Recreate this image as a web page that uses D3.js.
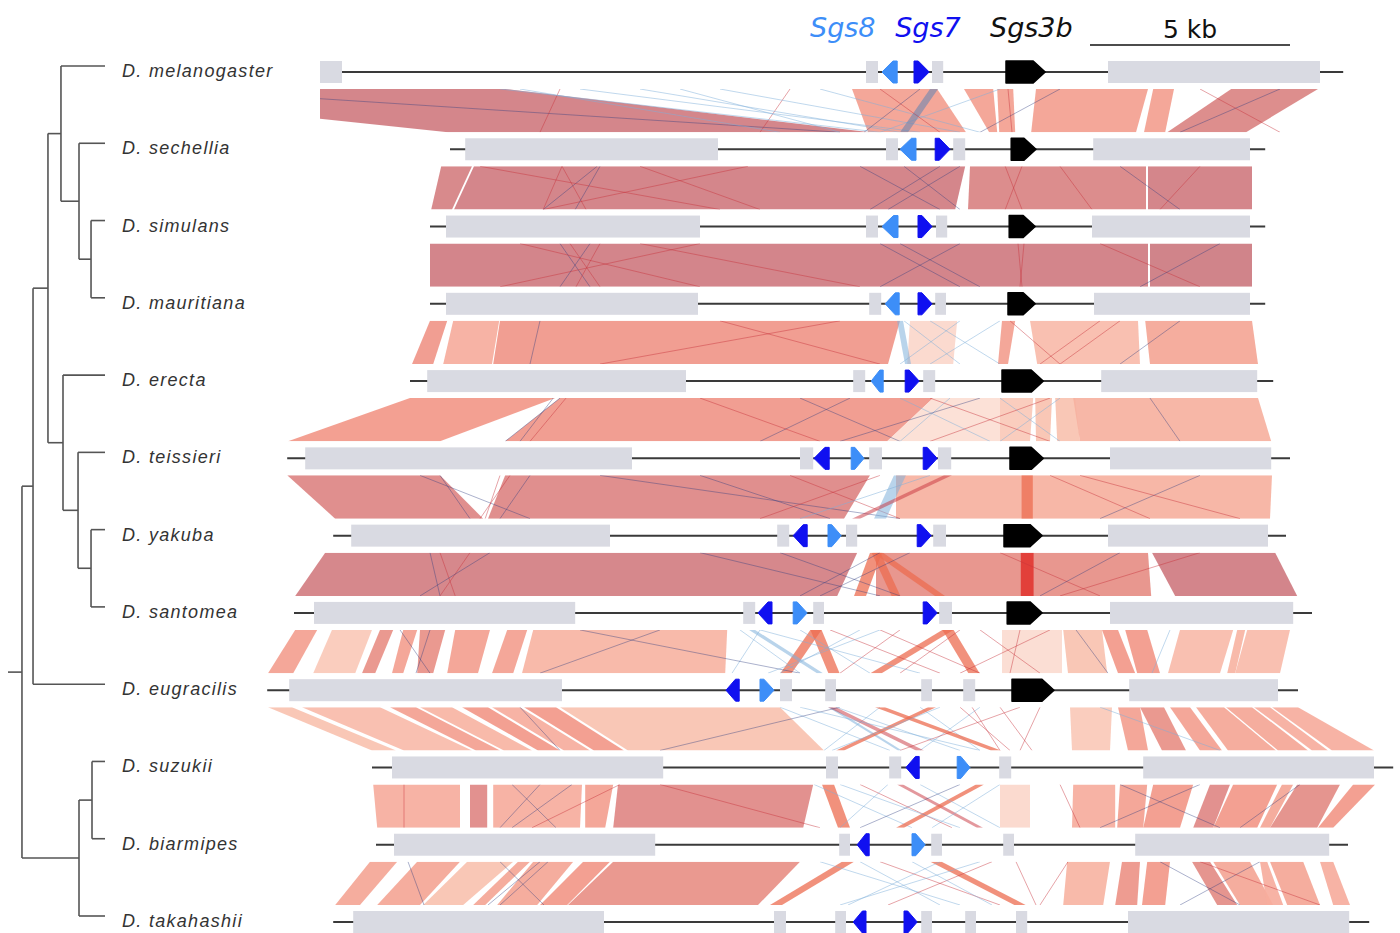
<!DOCTYPE html>
<html>
<head>
<meta charset="utf-8">
<script src="https://cdn.jsdelivr.net/npm/d3@7"></script>
<style>
  body { margin: 0; background: #fff; }
</style>
</head>
<body>
<div id="chart"></div>
<script>
// ---- data (positions in kb along the aligned window) ----
const species = ["D. melanogaster", "D. sechellia", "D. simulans", "D. mauritiana", "D. erecta",
  "D. teissieri", "D. yakuba", "D. santomea", "D. eugracilis", "D. suzukii", "D. biarmipes", "D. takahashii"];

const lineExtent = [
  [8.0, 33.58], [11.25, 31.63], [10.75, 31.63], [10.75, 31.63], [10.25, 31.83], [7.18, 32.25],
  [8.33, 32.15], [7.35, 32.8], [6.68, 32.45], [9.3, 34.83], [9.4, 33.7], [8.33, 34.23]
];

const geneBoxes = [
  [[8.0, 8.55], [21.65, 21.95], [23.3, 23.58], [27.7, 33.0]],
  [[11.63, 17.95], [22.15, 22.45], [23.83, 24.13], [27.33, 31.25]],
  [[11.15, 17.5], [21.65, 21.95], [23.4, 23.68], [27.3, 31.25]],
  [[11.15, 17.45], [21.73, 22.03], [23.38, 23.65], [27.35, 31.25]],
  [[10.68, 17.15], [21.33, 21.63], [23.08, 23.38], [27.53, 31.43]],
  [[7.63, 15.8], [20.0, 20.33], [21.73, 22.05], [23.45, 23.78], [27.75, 31.78]],
  [[8.78, 15.25], [19.43, 19.73], [21.15, 21.43], [23.33, 23.65], [27.7, 31.7]],
  [[7.85, 14.38], [18.58, 18.88], [20.33, 20.6], [23.48, 23.8], [27.75, 32.33]],
  [[7.23, 14.05], [19.5, 19.8], [20.63, 20.9], [23.03, 23.3], [24.08, 24.38], [28.23, 31.95]],
  [[9.8, 16.58], [20.65, 20.95], [22.23, 22.53], [24.98, 25.28], [28.58, 34.35]],
  [[9.85, 16.38], [20.98, 21.25], [23.28, 23.55], [25.08, 25.35], [28.38, 33.23]],
  [[8.83, 15.1], [19.35, 19.65], [20.88, 21.15], [23.03, 23.3], [24.13, 24.4], [25.4, 25.68], [28.2, 33.73]]
];

// [start, end, strand, gene]
const sgsGenes = [
  [[22.05, 22.43, -1, "Sgs8"], [22.85, 23.23, 1, "Sgs7"]],
  [[22.5, 22.9, -1, "Sgs8"], [23.38, 23.75, 1, "Sgs7"]],
  [[22.05, 22.45, -1, "Sgs8"], [22.95, 23.3, 1, "Sgs7"]],
  [[22.13, 22.48, -1, "Sgs8"], [22.95, 23.3, 1, "Sgs7"]],
  [[21.78, 22.08, -1, "Sgs8"], [22.63, 22.98, 1, "Sgs7"]],
  [[20.35, 20.73, -1, "Sgs7"], [21.28, 21.6, 1, "Sgs8"], [23.08, 23.43, 1, "Sgs7"]],
  [[19.83, 20.18, -1, "Sgs7"], [20.7, 21.03, 1, "Sgs8"], [22.93, 23.28, 1, "Sgs7"]],
  [[18.95, 19.3, -1, "Sgs7"], [19.83, 20.18, 1, "Sgs8"], [23.08, 23.43, 1, "Sgs7"]],
  [[18.15, 18.48, -1, "Sgs7"], [19.0, 19.35, 1, "Sgs8"]],
  [[22.65, 22.98, -1, "Sgs7"], [23.93, 24.25, 1, "Sgs8"]],
  [[21.43, 21.73, -1, "Sgs7"], [22.8, 23.13, 1, "Sgs8"]],
  [[21.33, 21.65, -1, "Sgs7"], [22.6, 22.93, 1, "Sgs7"]]
];

const sgs3b = [
  [25.15, 26.13], [25.28, 25.9], [25.23, 25.88], [25.2, 25.88], [25.05, 26.08], [25.25, 26.08],
  [25.1, 26.05], [25.18, 26.05], [25.3, 26.35], null, null, null
];

// syntenic blocks between neighbouring tracks: [topStart, topEnd, bottomStart, bottomEnd, identity]
const blocks = [
  [[1.0, 12.63, 11.2, 21.75, 0.95], [21.3, 23.43, 21.7, 24.15, 0.55], [24.1, 24.83, 24.73, 24.93, 0.55],
   [24.93, 25.33, 24.98, 25.38, 0.55], [25.9, 28.7, 25.78, 28.4, 0.55], [28.83, 29.35, 28.6, 29.13, 0.55],
   [30.78, 32.95, 29.18, 31.15, 0.85]],
  [[11.03, 11.8, 10.78, 11.3, 0.9], [11.85, 24.13, 11.35, 23.88, 0.95], [24.25, 28.65, 24.2, 28.65, 0.86],
   [28.7, 31.3, 28.7, 31.3, 0.95]],
  [[10.75, 28.7, 10.75, 28.7, 0.96], [28.75, 31.3, 28.75, 31.3, 0.99]],
  [[10.75, 11.18, 10.3, 10.83, 0.62], [11.33, 12.48, 11.08, 12.3, 0.45], [12.5, 22.5, 12.33, 22.2, 0.62],
   [22.75, 23.93, 22.68, 23.83, 0.15], [25.05, 25.38, 24.95, 25.2, 0.55], [25.75, 28.45, 25.93, 28.5, 0.35],
   [28.63, 31.3, 28.75, 31.45, 0.5]],
  [[10.25, 13.88, 7.2, 11.0, 0.6], [14.0, 23.33, 12.63, 22.18, 0.62], [23.33, 25.0, 22.18, 25.0, 0.1],
   [25.0, 25.83, 25.0, 25.75, 0.25], [25.88, 26.3, 25.9, 26.25, 0.3], [26.38, 26.88, 26.43, 27.0, 0.3],
   [26.83, 31.45, 27.0, 31.78, 0.42]],
  [[7.18, 11.0, 8.38, 12.08, 0.82], [12.63, 21.75, 12.2, 21.1, 0.82], [22.4, 31.8, 22.4, 31.75, 0.42]],
  [[8.13, 21.43, 7.38, 20.93, 0.93], [21.9, 28.7, 21.9, 28.78, 0.72], [28.8, 31.88, 29.38, 32.43, 0.96]],
  [[7.38, 7.93, 6.7, 7.33, 0.55], [8.3, 9.3, 7.83, 8.88, 0.25], [9.5, 9.83, 9.05, 9.38, 0.7],
   [10.08, 10.43, 9.8, 10.08, 0.55], [10.5, 11.13, 10.43, 10.83, 0.7], [11.38, 12.25, 11.18, 11.95, 0.55],
   [12.68, 13.18, 12.3, 12.83, 0.55], [13.33, 18.18, 13.05, 18.13, 0.4], [25.05, 26.55, 25.05, 26.55, 0.12],
   [26.58, 27.55, 26.7, 27.68, 0.3], [27.55, 27.95, 27.95, 28.38, 0.6], [28.13, 28.68, 28.43, 29.0, 0.6],
   [29.5, 30.83, 29.2, 30.5, 0.35], [30.93, 31.13, 30.68, 30.88, 0.4], [31.18, 32.25, 30.88, 32.0, 0.35]],
  [[6.7, 7.3, 9.3, 9.9, 0.3], [7.55, 9.5, 10.1, 11.8, 0.35], [9.75, 10.4, 11.9, 12.5, 0.55],
   [10.5, 11.3, 12.6, 13.3, 0.4], [11.55, 12.2, 13.45, 14.0, 0.6], [12.3, 13.0, 14.1, 14.75, 0.45],
   [13.1, 13.9, 14.85, 15.6, 0.6], [14.0, 19.5, 15.7, 20.6, 0.3], [26.75, 27.8, 26.8, 27.75, 0.25],
   [27.95, 28.5, 28.2, 28.7, 0.55], [28.5, 29.1, 29.05, 29.65, 0.7], [29.25, 29.75, 30.0, 30.55, 0.55],
   [29.9, 30.6, 30.7, 31.9, 0.5], [30.65, 31.3, 31.95, 32.7, 0.5], [31.35, 31.75, 32.8, 33.2, 0.45],
   [31.8, 32.45, 33.3, 34.35, 0.45]],
  [[9.33, 11.5, 9.43, 11.5, 0.45], [11.75, 12.18, 11.75, 12.18, 0.8], [12.33, 14.55, 12.33, 14.5, 0.45],
   [14.63, 15.33, 14.63, 15.13, 0.55], [15.45, 20.33, 15.33, 20.08, 0.8], [25.0, 25.75, 25.0, 25.75, 0.15],
   [26.83, 27.88, 26.8, 27.88, 0.45], [28.0, 28.68, 27.93, 28.58, 0.55], [28.83, 29.83, 28.58, 29.5, 0.6],
   [30.25, 30.75, 29.83, 30.33, 0.8], [30.83, 31.93, 30.33, 31.43, 0.6], [32.05, 32.33, 31.5, 31.75, 0.5],
   [32.43, 33.5, 31.75, 32.93, 0.75], [33.83, 34.38, 32.95, 33.33, 0.6]],
  [[9.25, 9.93, 8.38, 9.0, 0.5], [10.43, 11.5, 9.43, 10.5, 0.5], [11.68, 12.83, 10.58, 11.58, 0.3],
   [12.95, 13.25, 11.83, 12.13, 0.5], [13.33, 14.33, 12.43, 13.43, 0.5], [14.58, 15.25, 13.5, 14.18, 0.6],
   [15.33, 20.0, 14.2, 18.95, 0.7], [26.68, 27.75, 26.58, 27.58, 0.4], [28.05, 28.5, 27.88, 28.43, 0.65],
   [28.68, 29.25, 28.55, 29.13, 0.6], [29.8, 30.25, 30.43, 30.93, 0.75], [30.33, 31.25, 31.0, 31.83, 0.5],
   [31.5, 31.68, 31.68, 32.08, 0.45], [31.75, 32.58, 32.18, 33.0, 0.5], [33.0, 33.33, 33.33, 33.75, 0.45]]
];

// short hits: [topCentre, bottomCentre, kind, width kb]  r=forward, n=dark, b=reverse, s=strong forward, R=bright
const hits = [
  [[4.25, 21.0, "n", 0], [14.0, 13.5, "r", 0], [19.75, 19.0, "r", 0], [12.5, 22.0, "b", 0], [14.5, 23.0, "b", 0],
   [16.0, 22.5, "b", 0], [18.0, 24.0, "b", 0], [20.5, 24.5, "b", 0], [25.0, 22.0, "b", 0], [23.35, 22.6, "t", 0.2],
   [22.0, 23.5, "r", 0], [23.0, 21.6, "n", 0], [25.2, 25.3, "r", 0], [26.5, 24.5, "n", 0], [32.0, 29.5, "n", 0],
   [30.0, 32.0, "r", 0], [13.0, 19.5, "b", 0], [17.0, 21.0, "b", 0]],
  [[14.05, 14.65, "r", 0], [14.05, 13.58, "r", 0], [14.93, 13.58, "n", 0], [15.0, 14.38, "n", 0], [18.7, 13.58, "r", 0],
   [16.0, 19.0, "r", 0], [12.0, 18.0, "r", 0], [21.5, 23.5, "n", 0], [23.5, 21.75, "n", 0], [22.6, 24.0, "n", 0],
   [24.0, 22.2, "n", 0], [25.13, 25.55, "r", 0], [25.55, 25.13, "r", 0], [26.5, 27.3, "r", 0], [30.0, 29.0, "r", 0],
   [28.0, 29.5, "n", 0]],
  [[14.0, 14.75, "n", 0], [14.75, 14.0, "n", 0], [14.25, 15.0, "r", 0], [15.0, 14.4, "r", 0], [13.0, 17.5, "r", 0],
   [17.5, 12.5, "r", 0], [22.0, 24.0, "n", 0], [24.0, 22.0, "n", 0], [22.5, 24.5, "n", 0], [25.45, 25.55, "r", 0],
   [25.6, 25.5, "r", 0], [16.0, 21.5, "r", 0], [27.5, 30.0, "r", 0], [30.5, 28.5, "n", 0]],
  [[13.5, 13.25, "n", 0], [22.6, 24.0, "b", 0], [24.0, 22.5, "b", 0], [23.25, 25.0, "b", 0], [25.0, 23.25, "b", 0],
   [25.25, 26.5, "r", 0], [27.5, 26.0, "r", 0], [29.5, 28.0, "n", 0], [18.0, 22.0, "r", 0], [21.0, 15.0, "r", 0],
   [28.0, 26.5, "r", 0], [22.5, 22.7, "b", 0.15]],
  [[13.83, 13.0, "n", 0], [14.0, 12.63, "n", 0], [14.15, 13.25, "r", 0], [17.5, 20.5, "r", 0], [20.0, 22.5, "n", 0],
   [21.25, 19.0, "n", 0], [22.5, 24.75, "b", 0], [23.75, 22.5, "b", 0], [25.0, 26.5, "b", 0], [26.5, 25.0, "b", 0],
   [23.25, 26.25, "r", 0], [26.25, 23.25, "r", 0], [28.75, 29.5, "n", 0], [24.5, 21.0, "n", 0]],
  [[10.5, 13.25, "n", 0], [11.0, 11.75, "n", 0], [12.5, 12.13, "r", 0], [12.75, 12.0, "r", 0], [13.25, 12.5, "n", 0],
   [15.0, 22.5, "n", 0], [17.5, 20.75, "n", 0], [19.75, 22.5, "r", 0], [22.0, 19.0, "r", 0], [22.5, 22.0, "b", 0.3],
   [23.25, 20.0, "b", 0], [23.7, 21.4, "r", 0.2], [25.68, 25.68, "s", 0.28], [26.25, 28.75, "r", 0],
   [30.0, 27.5, "n", 0], [27.0, 31.0, "r", 0]],
  [[10.75, 11.0, "n", 0], [11.0, 11.38, "r", 0], [11.75, 11.0, "r", 0], [12.25, 10.5, "n", 0], [21.9, 21.5, "s", 0.3],
   [21.95, 23.5, "s", 0.25], [21.9, 22.4, "s", 0.22], [22.0, 20.0, "n", 0], [19.5, 22.5, "n", 0], [17.5, 22.0, "n", 0],
   [22.75, 20.5, "n", 0], [25.68, 25.68, "R", 0.32], [25.0, 27.5, "r", 0], [28.0, 26.0, "n", 0], [30.0, 26.5, "r", 0]],
  [[20.4, 19.65, "s", 0.28], [20.4, 20.85, "s", 0.28], [23.7, 21.9, "s", 0.28], [23.7, 24.35, "s", 0.28],
   [18.5, 20.0, "b", 0], [19.0, 18.3, "b", 0], [18.8, 20.5, "b", 0.15], [20.0, 21.75, "b", 0], [21.5, 19.5, "b", 0],
   [20.75, 23.5, "r", 0], [22.5, 21.0, "r", 0], [24.0, 22.5, "r", 0], [22.0, 24.5, "r", 0], [24.5, 26.0, "r", 0],
   [26.25, 24.0, "r", 0], [25.5, 25.25, "r", 0], [14.5, 20.0, "n", 0], [16.5, 13.5, "n", 0], [10.0, 10.75, "n", 0],
   [10.75, 10.4, "n", 0], [26.9, 27.7, "n", 0], [29.25, 28.8, "b", 0], [19.0, 23.0, "b", 0], [22.0, 19.2, "b", 0]],
  [[20.75, 22.5, "b", 0.1], [22.0, 20.6, "b", 0], [23.0, 24.5, "b", 0], [24.5, 23.0, "b", 0], [20.9, 24.0, "b", 0],
   [19.5, 22.25, "b", 0], [20.8, 23.0, "r", 0.2], [22.0, 24.9, "s", 0.25], [23.3, 21.0, "s", 0.2], [24.3, 25.0, "r", 0],
   [25.5, 22.5, "r", 0], [24.0, 25.25, "r", 0], [21.0, 16.5, "n", 0], [13.0, 14.0, "n", 0], [27.5, 30.5, "b", 0],
   [26.0, 25.5, "r", 0], [25.0, 25.8, "r", 0], [20.0, 24.5, "b", 0], [23.5, 20.8, "b", 0]],
  [[10.1, 10.1, "r", 0], [12.8, 13.9, "n", 0], [13.5, 12.5, "n", 0], [14.3, 12.8, "n", 0], [15.5, 13.3, "r", 0],
   [16.5, 20.5, "r", 0], [20.7, 21.1, "s", 0.3], [20.35, 22.8, "b", 0], [22.2, 21.0, "b", 0], [22.5, 24.5, "r", 0.15],
   [24.5, 22.5, "s", 0.2], [23.0, 25.0, "b", 0], [25.0, 23.3, "b", 0], [21.5, 23.8, "r", 0], [24.0, 21.5, "n", 0],
   [26.5, 27.0, "r", 0], [28.0, 30.5, "n", 0], [30.0, 27.5, "n", 0], [32.5, 31.0, "n", 0], [21.0, 24.0, "b", 0]],
  [[10.2, 10.6, "n", 0], [13.5, 12.2, "n", 0], [13.7, 12.5, "n", 0], [12.5, 13.6, "n", 0], [21.2, 19.4, "s", 0.3],
   [23.4, 25.5, "s", 0.28], [21.5, 23.5, "b", 0], [23.5, 21.2, "b", 0], [20.5, 24.0, "b", 0], [22.0, 25.0, "r", 0],
   [24.8, 22.2, "r", 0], [24.5, 21.0, "b", 0], [25.4, 25.9, "r", 0], [26.7, 26.0, "r", 0], [29.0, 31.0, "n", 0],
   [31.5, 29.5, "n", 0], [30.0, 33.0, "r", 0], [22.8, 24.8, "b", 0]]
];

// phylogeny, node ages in arbitrary units
const tree = { age: 85.6, children: [
  { age: 74.2, children: [
    { age: 58.8, children: [
      { age: 45.4, children: [
        { name: "D. melanogaster" },
        { age: 26.8, children: [
          { name: "D. sechellia" },
          { age: 14.4, children: [{ name: "D. simulans" }, { name: "D. mauritiana" }] }
        ] }
      ] },
      { age: 43.3, children: [
        { name: "D. erecta" },
        { age: 27.8, children: [
          { name: "D. teissieri" },
          { age: 14.4, children: [{ name: "D. yakuba" }, { name: "D. santomea" }] }
        ] }
      ] }
    ] },
    { name: "D. eugracilis" }
  ] },
  { age: 26.8, children: [
    { age: 13.4, children: [{ name: "D. suzukii" }, { name: "D. biarmipes" }] },
    { name: "D. takahashii" }
  ] }
] };

const headerGenes = [["Sgs8", 20.25], ["Sgs7", 22.38], ["Sgs3b", 24.75]];
const scaleBar = [27.25, 32.25];

// ---- drawing ----
const width = 1400, height = 933;
const geneColor = { Sgs8: "#3d8ef8", Sgs7: "#1010f0", Sgs3b: "#111111" };
const hitStyle = {
  r: ["#c8323c", 0.5], n: ["#2f3f80", 0.45], b: ["#7fb0da", 0.55],
  s: ["#ec6c50", 0.75], R: ["#e0302c", 0.85], t: ["#6a86b0", 0.6]
};

const svg = d3.select("#chart").append("svg")
  .attr("width", width).attr("height", height)
  .style("font-family", "'Liberation Sans', Arial, sans-serif");

const x = d3.scaleLinear().domain([0, 35]).range([0, 1400]);
const y = d3.scalePoint().domain(species).range([72, 922]);
const ageX = d3.scaleLinear().domain([0, 100]).range([105, 8]);
const idColor = d3.scaleLinear()
  .domain([0, 0.3, 0.6, 1])
  .range(["#fdece6", "#f9c2b0", "#f29889", "#cb7880"]);

const half = 11, gapPad = 17;

// synteny ribbons
const defs = svg.append("defs");
blocks.forEach((gapBlocks, i) => {
  const y0 = y(species[i]) + gapPad, y1 = y(species[i + 1]) - gapPad;
  const left = Math.min(lineExtent[i][0], lineExtent[i + 1][0]);
  const right = Math.max(lineExtent[i][1], lineExtent[i + 1][1]);
  defs.append("clipPath").attr("id", "gap" + i)
    .append("rect")
    .attr("x", x(left)).attr("y", y0)
    .attr("width", x(right) - x(left)).attr("height", y1 - y0);

  const g = svg.append("g").attr("clip-path", `url(#gap${i})`);

  g.selectAll("path.block")
    .data(gapBlocks)
    .join("path")
    .attr("class", "block")
    .attr("d", d => `M${x(d[0])},${y0}L${x(d[1])},${y0}L${x(d[3])},${y1}L${x(d[2])},${y1}Z`)
    .attr("fill", d => idColor(d[4]))
    .attr("fill-opacity", 0.92);

  g.selectAll("path.hit")
    .data(hits[i])
    .join("path")
    .attr("class", "hit")
    .attr("d", d => {
      if (!d[3]) return `M${x(d[0])},${y0}L${x(d[1])},${y1}`;
      const w = d[3] / 2;
      return `M${x(d[0] - w)},${y0}L${x(d[0] + w)},${y0}L${x(d[1] + w)},${y1}L${x(d[1] - w)},${y1}Z`;
    })
    .attr("fill", d => d[3] ? hitStyle[d[2]][0] : "none")
    .attr("fill-opacity", d => hitStyle[d[2]][1])
    .attr("stroke", d => d[3] ? "none" : hitStyle[d[2]][0])
    .attr("stroke-opacity", d => hitStyle[d[2]][1])
    .attr("stroke-width", 0.9);
});

// tracks
species.forEach((sp, i) => {
  const cy = y(sp);
  const g = svg.append("g");
  g.append("line")
    .attr("x1", x(lineExtent[i][0])).attr("x2", x(lineExtent[i][1]))
    .attr("y1", cy).attr("y2", cy)
    .attr("stroke", "#3a3a3a").attr("stroke-width", 2);

  g.selectAll("rect")
    .data(geneBoxes[i])
    .join("rect")
    .attr("x", d => x(d[0])).attr("width", d => x(d[1]) - x(d[0]))
    .attr("y", cy - half).attr("height", half * 2)
    .attr("fill", "#d9dae2");

  g.selectAll("path.sgs")
    .data(sgsGenes[i])
    .join("path")
    .attr("class", "sgs")
    .attr("d", d => {
      const a = x(d[0]), b = x(d[1]), neck = (b - a) * 0.72;
      return d[2] < 0
        ? `M${a},${cy}L${a + neck},${cy - half}L${b},${cy - half}L${b},${cy + half}L${a + neck},${cy + half}Z`
        : `M${b},${cy}L${b - neck},${cy - half}L${a},${cy - half}L${a},${cy + half}L${b - neck},${cy + half}Z`;
    })
    .attr("fill", d => geneColor[d[3]])
    .attr("stroke", d => geneColor[d[3]])
    .attr("stroke-width", 1)
    .attr("stroke-linejoin", "round");

  if (sgs3b[i]) {
    const a = x(sgs3b[i][0]), b = x(sgs3b[i][1]), head = 12;
    g.append("path")
      .attr("d", `M${a},${cy - half}L${b - head},${cy - half}L${b},${cy}L${b - head},${cy + half}L${a},${cy + half}Z`)
      .attr("fill", "#000").attr("stroke", "#000").attr("stroke-width", 1.5)
      .attr("stroke-linejoin", "round");
  }

  g.append("text")
    .attr("x", 122).attr("y", cy - 1)
    .attr("dominant-baseline", "central")
    .attr("font-style", "italic").attr("font-size", 18)
    .attr("letter-spacing", 1.3)
    .attr("fill", "#333")
    .text(sp);
});

// tree
const root = d3.hierarchy(tree);
root.eachAfter(n => {
  n.tx = ageX(n.data.age || 0);
  n.ty = n.children ? d3.mean(n.children, c => c.ty) : y(n.data.name) - 6;
});
const tg = svg.append("g").attr("fill", "none").attr("stroke", "#555").attr("stroke-width", 1.6);
root.descendants().filter(n => n.children).forEach(n => {
  const ys = n.children.map(c => c.ty);
  tg.append("line").attr("x1", n.tx).attr("x2", n.tx)
    .attr("y1", d3.min(ys)).attr("y2", d3.max(ys));
  n.children.forEach(c => {
    tg.append("line").attr("x1", n.tx).attr("x2", c.tx).attr("y1", c.ty).attr("y2", c.ty);
  });
});
tg.append("line").attr("x1", ageX(100)).attr("x2", root.tx).attr("y1", root.ty).attr("y2", root.ty);

// header
svg.selectAll("text.hdr")
  .data(headerGenes)
  .join("text")
  .attr("class", "hdr")
  .attr("x", d => x(d[1])).attr("y", 37)
  .attr("font-family", "'DejaVu Sans', sans-serif")
  .attr("font-style", "italic").attr("font-size", 27)
  .attr("fill", d => geneColor[d[0]])
  .text(d => d[0]);

svg.append("line")
  .attr("x1", x(scaleBar[0])).attr("x2", x(scaleBar[1]))
  .attr("y1", 45).attr("y2", 45)
  .attr("stroke", "#111").attr("stroke-width", 1.6);
svg.append("text")
  .attr("x", x(d3.mean(scaleBar))).attr("y", 38)
  .attr("text-anchor", "middle")
  .attr("font-family", "'DejaVu Sans', sans-serif")
  .attr("font-size", 25).attr("fill", "#111")
  .text("5 kb");
</script>
</body>
</html>
